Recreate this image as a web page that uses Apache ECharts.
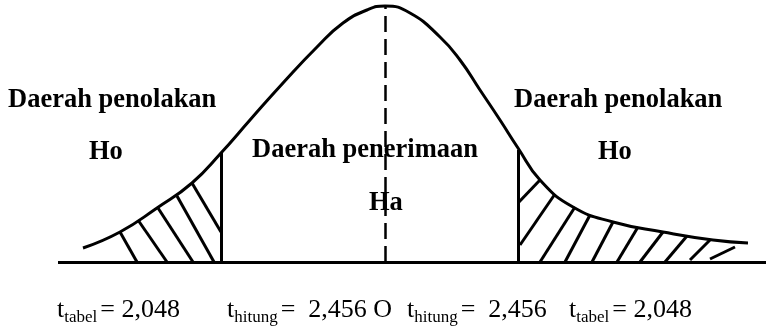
<!DOCTYPE html>
<html>
<head>
<meta charset="utf-8">
<title>Daerah penolakan Ho</title>
<script src="https://cdn.jsdelivr.net/npm/echarts@6/dist/echarts.min.js"></script>
<style>
  html, body { margin: 0; padding: 0; background: #fff; }
  #chart { width: 769px; height: 331px; }
</style>
</head>
<body>
<div id="chart"></div>
<script>
// curve (x along the axis, height above the baseline)
var curveX = [83, 120, 157, 192, 221, 250, 283, 317, 343, 367, 385, 410, 440, 460, 480, 500, 518, 540, 573, 613, 663, 713, 748];
var curveY = [14, 30, 54, 79, 109, 142, 179, 215, 239, 252, 256, 249, 225, 202, 172, 142, 114, 82, 55, 40, 30, 22, 19];

// critical values (x) and where the curve meets them (height)
var critX = [221, 518];
var critY = [109, 112];
var centerX = 385;
var centerTop = 256;
var baseFrom = 58, baseTo = 766;

// hatching strokes [x1, y1, x2, y2]
var leftHatch = [
  [120, 30, 137, 0], [138, 42, 167, 0], [158, 54, 193, 0],
  [177, 66, 214, 0], [192, 79, 221, 30]
];
var rightHatch = [
  [540, 82, 518, 59], [555, 68, 520, 17], [575, 55, 540, 0],
  [590, 47, 565, 0], [613, 40, 592, 0], [638, 35, 617, 0],
  [663, 30, 640, 0], [687, 26, 665, 0], [710, 22, 690, 2],
  [735, 15, 710, 3]
];

// text
var regionText = ['Daerah penolakan', 'Ho', 'Daerah penerimaan', 'Ha', 'Daerah penolakan', 'Ho'];
var regionAt = [[8, 162], [89, 110], [252, 112], [369, 59], [514, 162], [598, 110]];
var tName = ['tabel', 'hitung', 'hitung', 'tabel'];
var tValue = ['= 2,048', '=  2,456 O', '=  2,456', '= 2,048'];
var tAt = [[57, -48], [227, -48], [407, -48], [569, -48]];

var chart = echarts.init(document.getElementById('chart'));

var curve = curveX.map(function (x, i) { return [x, curveY[i]]; });
function seg(s) { return { coords: [[s[0], s[1]], [s[2], s[3]]] }; }

chart.setOption({
  animation: false,
  grid: { left: 0, right: 0, top: 0, bottom: 0 },
  xAxis: { type: 'value', min: 0, max: 769, show: false },
  yAxis: { type: 'value', min: -69, max: 262, show: false },
  series: [
    {
      type: 'line',
      data: curve,
      smooth: 0.5,
      symbol: 'none',
      lineStyle: { color: '#000', width: 3 }
    },
    {
      type: 'lines',
      coordinateSystem: 'cartesian2d',
      lineStyle: { color: '#000', width: 3, opacity: 1 },
      data: [
        { coords: [[baseFrom, 0], [baseTo, 0]] },
        { coords: [[critX[0], 0], [critX[0], critY[0]]] },
        { coords: [[critX[1], 0], [critX[1], critY[1]]] }
      ].concat(leftHatch.map(seg), rightHatch.map(seg))
    },
    {
      type: 'lines',
      coordinateSystem: 'cartesian2d',
      lineStyle: { color: '#000', width: 2.5, type: [16, 7], opacity: 1 },
      data: [{ coords: [[centerX, 0], [centerX, centerTop]] }]
    },
    {
      type: 'scatter',
      symbolSize: 0,
      clip: false,
      itemStyle: { opacity: 1 },
      data: regionText.map(function (t, i) { return { value: regionAt[i], name: t }; }),
      label: {
        show: true,
        position: 'inside',
        align: 'left',
        verticalAlign: 'middle',
        formatter: '{b}',
        color: '#000',
        opacity: 1,
        fontFamily: 'Liberation Serif',
        fontWeight: 'bold',
        fontSize: 26.5
      }
    },
    {
      type: 'scatter',
      symbolSize: 0,
      clip: false,
      itemStyle: { opacity: 1 },
      data: tName.map(function (n, i) { return { value: tAt[i], name: n }; }),
      label: {
        show: true,
        position: 'inside',
        align: 'left',
        verticalAlign: 'middle',
        formatter: function (p) {
          return '{m|t}{s|' + p.name + '}{g|' + tValue[p.dataIndex] + '}';
        },
        rich: {
          m: { fontFamily: 'Liberation Serif', fontSize: 26, color: '#000', verticalAlign: 'bottom' },
          s: { fontFamily: 'Liberation Serif', fontSize: 17, color: '#000', verticalAlign: 'bottom', padding: [0, 0, -3, 0] },
          g: { fontFamily: 'Liberation Serif', fontSize: 26, color: '#000', verticalAlign: 'bottom', padding: [0, 0, 0, 3] }
        }
      }
    }
  ]
});
</script>
</body>
</html>
